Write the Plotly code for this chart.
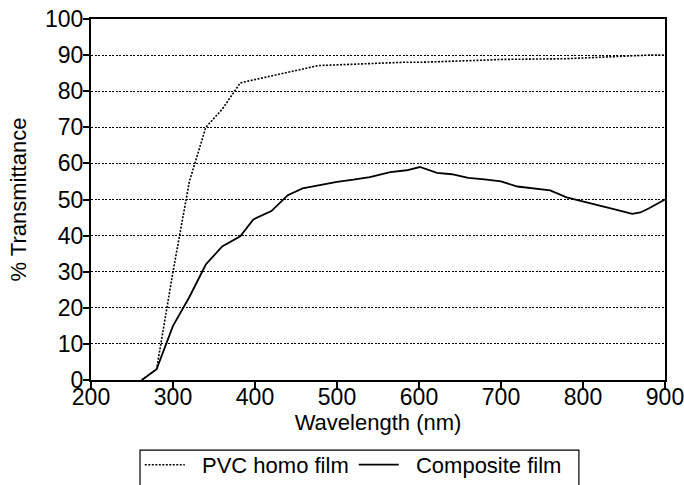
import plotly.graph_objects as go

# PVC homo film (dotted)
pvc_wl = [262, 280, 300, 320, 340, 360, 382, 400, 420, 440, 460, 477, 500, 520, 540, 560, 580,
          600, 620, 640, 660, 680, 700, 720, 740, 760, 780, 800, 820, 840, 860, 880, 900]
pvc_t = [0, 3, 30, 55, 70, 75, 82.3, 83.2, 84.2, 85.2, 86.2, 87.1, 87.3, 87.5, 87.7, 87.9, 88,
         88, 88.1, 88.2, 88.4, 88.6, 88.8, 88.8, 88.8, 88.8, 89, 89.2, 89.4, 89.7, 90, 90, 90]

# Composite film (solid)
comp_wl = [262, 280, 300, 320, 340, 360, 382, 398, 420, 440, 458, 479, 500, 520, 540, 565, 585,
           601, 622, 640, 660, 680, 700, 720, 740, 760, 780, 800, 820, 840, 860, 870, 880, 900]
comp_t = [0, 3, 15, 23, 32, 37, 39.8, 44.5, 46.8, 51.2, 53.1, 54.1, 54.9, 55.5, 56.2, 57.6, 58.1,
          59, 57.4, 57, 56, 55.6, 55, 53.6, 53, 52.5, 50.6, 49.5, 48.5, 47.2, 46, 46.4, 47.5, 50]

x_ticks = [200, 300, 400, 500, 600, 700, 800, 900]
y_ticks = list(range(0, 101, 10))

series_names = ["PVC homo film", "Composite film"]

FONT = "Liberation Sans, Arial, sans-serif"
NB = "\u00a0"

fig = go.Figure()
fig.add_trace(go.Scatter(x=pvc_wl, y=pvc_t, mode="lines", name=NB * 2 + series_names[0],
                         line=dict(color="black", width=1.6, dash="2px,1.5px")))
fig.add_trace(go.Scatter(x=comp_wl, y=comp_t, mode="lines", name=NB * 2 + series_names[1] + NB * 3,
                         line=dict(color="black", width=1.8)))

# legend frame (open at the bottom edge of the image)
fig.add_shape(type="rect", xref="paper", yref="paper",
              x0=0.0854, x1=0.850, y0=-0.194, y1=-0.40,
              line=dict(color="black", width=1.2), fillcolor="rgba(0,0,0,0)", layer="above")

fig.update_layout(
    width=684, height=485,
    margin=dict(l=91, r=19, t=19, b=105, autoexpand=False),
    paper_bgcolor="white", plot_bgcolor="white",
    font=dict(family=FONT, size=22, color="black"),
    showlegend=True,
    legend=dict(orientation="h", x=0.085, xanchor="left", y=-0.177, yanchor="top",
                borderwidth=0, bgcolor="rgba(0,0,0,0)",
                font=dict(family=FONT, size=22, color="black"),
                itemwidth=40, tracegroupgap=0),
    xaxis=dict(range=[200, 900], tickvals=x_ticks, ticks="outside", ticklen=6,
               tickcolor="black", tickwidth=1.5, showline=True, linecolor="black", linewidth=2,
               mirror=True, showgrid=False, zeroline=False, ticklabelstandoff=-11,
               automargin=False, ticklabeloverflow="allow",
               title=dict(text="Wavelength (nm)", standoff=0, font=dict(size=22)),
               tickfont=dict(size=23)),
    yaxis=dict(range=[0, 100], tickvals=y_ticks, ticks="outside", ticklen=6,
               tickcolor="black", tickwidth=1.5, showline=True, linecolor="black", linewidth=2,
               mirror=True, showgrid=True, gridcolor="black", gridwidth=1, griddash="2px,1.5px",
               zeroline=False, ticklabelstandoff=-5, automargin=False, ticklabeloverflow="allow",
               title=dict(text="% Transmittance", standoff=12, font=dict(size=22)),
               tickfont=dict(size=23)),
)

fig.write_html("out.html")
